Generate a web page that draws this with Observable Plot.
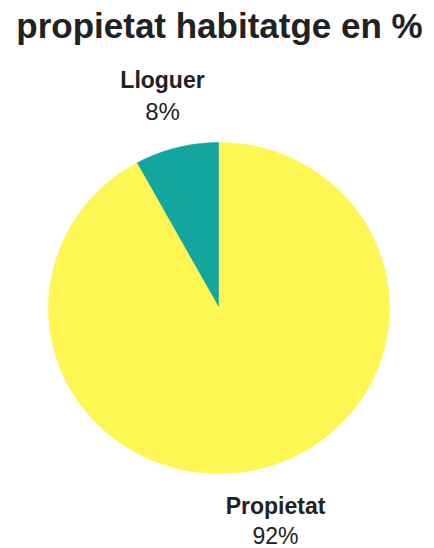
<!DOCTYPE html>
<html><head><meta charset="utf-8">
<script src="https://cdn.jsdelivr.net/npm/d3@7"></script>
<script src="https://cdn.jsdelivr.net/npm/@observablehq/plot@0.6"></script>
<style>body{margin:0;background:#fff;font-family:"Liberation Sans",Arial,sans-serif}</style>
</head><body><div id="chart"></div>
<script>
const title = "propietat habitatge en %";
const categories = ["Lloguer", "Propietat"];
const values = [8, 92];
const colors = ["#12a69f", "#fdf653"];

// slices from data: start at top, Lloguer goes counterclockwise
const total = d3.sum(values);
const pts = [];
let acc = 0;
categories.forEach((c, i) => {
  const a0 = acc / total * 2 * Math.PI, a1 = (acc + values[i]) / total * 2 * Math.PI;
  acc += values[i];
  const n = Math.max(2, Math.ceil((a1 - a0) / 0.01));
  pts.push({cat: c, x: 0, y: 0});
  for (let k = 0; k <= n; k++) {
    const a = a0 + (a1 - a0) * k / n;
    pts.push({cat: c, x: -Math.sin(a), y: Math.cos(a)});
  }
  pts.push({cat: c, x: 0, y: 0});
});

const labelFont = {fontFamily: "Liberation Sans, Arial, sans-serif", fill: "#222", fontSize: 23, textAnchor: "middle", lineAnchor: "middle"};
const chart = Plot.plot({
  width: 434, height: 548, margin: 0,
  x: {domain: [-1, 1], range: [48, 389], axis: null},
  y: {domain: [-1, 1], range: [473, 142], axis: null},
  color: {domain: categories, range: colors},
  marks: [
    Plot.line(pts, {x: "x", y: "y", z: "cat", fill: "cat", stroke: "cat", strokeWidth: 0.5, curve: "linear"}),
    Plot.text([title], {frameAnchor: "top-left", dx: 219, dy: 26, text: d => d, fontSize: 35, fontWeight: "bold", fill: "#222", fontFamily: "Liberation Sans, Arial, sans-serif", textAnchor: "middle", lineAnchor: "middle"}),
    Plot.text([categories[0]], {frameAnchor: "top-left", dx: 162, dy: 80, text: d => d, fontWeight: "bold", ...labelFont}),
    Plot.text([values[0] + "%"], {frameAnchor: "top-left", dx: 162, dy: 112, text: d => d, ...labelFont, fontSize: 24}),
    Plot.text([categories[1]], {frameAnchor: "top-left", dx: 275, dy: 506, text: d => d, fontWeight: "bold", ...labelFont}),
    Plot.text([values[1] + "%"], {frameAnchor: "top-left", dx: 275, dy: 536, text: d => d, ...labelFont})
  ]
});
document.getElementById("chart").appendChild(chart);
</script></body></html>
